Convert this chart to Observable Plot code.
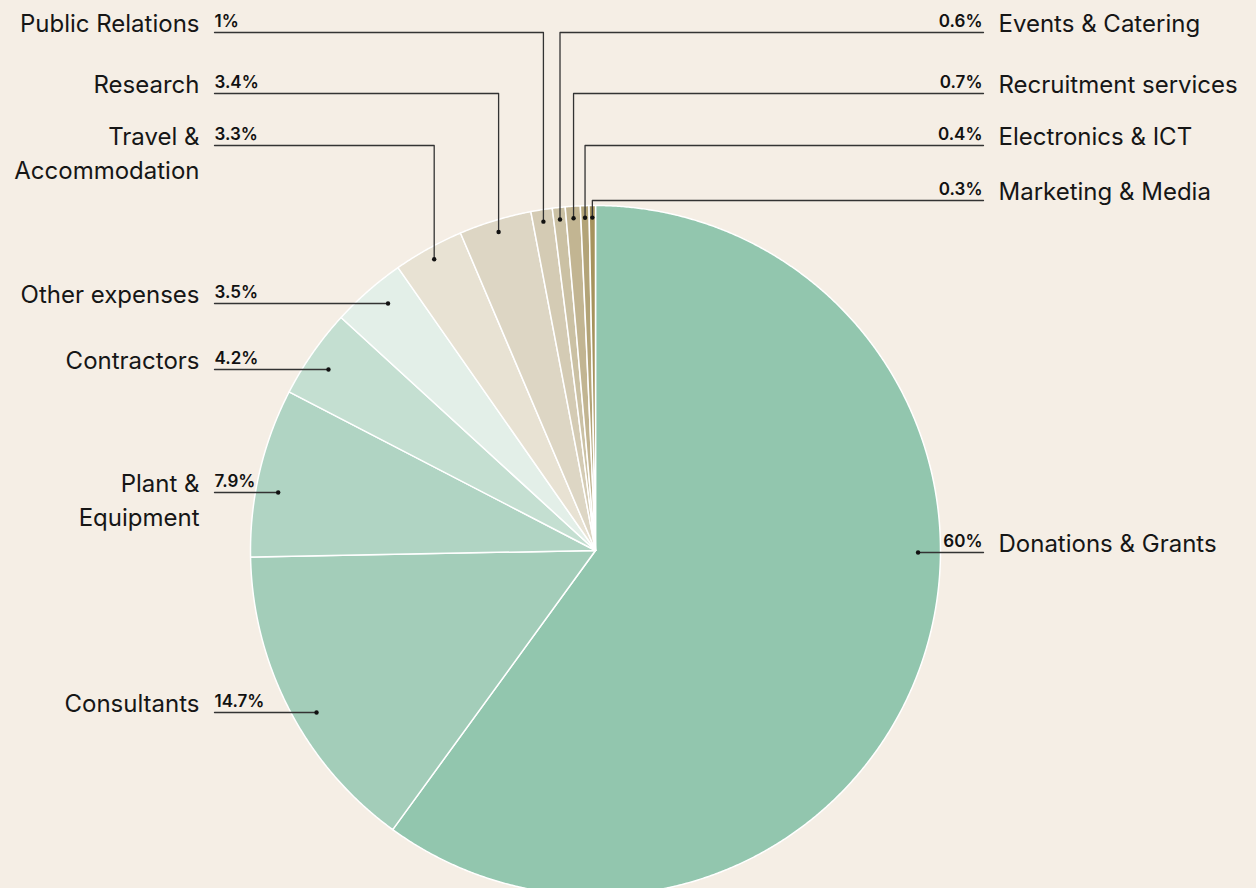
<!DOCTYPE html>
<html><head><meta charset="utf-8">
<script src="https://cdn.jsdelivr.net/npm/d3@7"></script>
<script src="https://cdn.jsdelivr.net/npm/@observablehq/plot@0.6"></script>
<style>html,body{margin:0;padding:0;background:#f5eee5;overflow:hidden}</style>
</head><body><div id="chart"></div><script>
// ---- data ----
const categories = ["Donations & Grants","Consultants","Plant &\nEquipment","Contractors","Other expenses","Travel &\nAccommodation","Research","Public Relations","Events & Catering","Recruitment services","Electronics & ICT","Marketing & Media"];
const values = [60, 14.7, 7.9, 4.2, 3.5, 3.3, 3.4, 1, 0.6, 0.7, 0.4, 0.3];
const colors = ["#92c6ae","#a3cdb9","#b0d4c3","#c4dfd1","#e3efe8","#e8e2d3","#ddd6c4","#d4cbb4","#cbc1a4","#c2b592","#b3a478","#a6935d"];

// ---- layout ----
const W = 1256, H = 888;
const cx = 595, cy = 550, R = 345;
const side = ["right","left","left","left","left","left","left","left","right","right","right","right"];
const rows = [552, 712, 492, 369, 303, 145, 93, 32, 32, 93, 145, 200];
const elbow = [false,false,false,false,false,true,true,true,true,true,true,true];
const leftLineX = 214, rightLineX = 983, leftLabelX = 199, rightLabelX = 998;
const labelSize = 24, labelLH = 1.4;

const pie = d3.pie().sort(null).value(d => d.value)(categories.map((name, i) => ({name, value: values[i], i})));

// slice polygons
const polys = [];
for (const a of pie) {
  const name = a.data.name;
  polys.push({name, x: cx, y: cy});
  const n = Math.max(4, Math.ceil((a.endAngle - a.startAngle) / 0.005));
  for (let k = 0; k <= n; k++) {
    const t = a.startAngle + (a.endAngle - a.startAngle) * k / n;
    polys.push({name, x: cx + R * Math.sin(t), y: cy - R * Math.cos(t)});
  }
}

// leaders
const leaders = [], dots = [], labels = [];
pie.forEach((a, i) => {
  const name = a.data.name, row = rows[i], s = side[i];
  const lx = s === "left" ? leftLineX : rightLineX;
  let ax, ay;
  if (elbow[i]) {
    const mid = (a.startAngle + a.endAngle) / 2;
    const rr = R * 0.965;
    ax = cx + rr * Math.sin(mid); ay = cy - rr * Math.cos(mid);
    leaders.push({name, x: lx, y: row}, {name, x: ax, y: row}, {name, x: ax, y: ay});
  } else {
    const rr = R * 0.935;
    const dx = Math.sqrt(Math.max(0, rr * rr - (row - cy) ** 2));
    ax = s === "left" ? cx - dx : cx + dx; ay = row;
    leaders.push({name, x: lx, y: row}, {name, x: ax, y: row});
  }
  dots.push({x: ax, y: ay});
  labels.push({name, side: s, row, pct: `${a.data.value}%`});
});

const L = labels.filter(d => d.side === "left"), Rt = labels.filter(d => d.side === "right");
const labelDy = -0.71 * labelLH * labelSize;

const chart = Plot.plot({
  width: W, height: H, margin: 0,
  x: {domain: [0, W], range: [0, W], axis: null},
  y: {domain: [0, H], range: [0, H], axis: null},
  color: {domain: categories, range: colors},
  style: {background: "#f5eee5", fontFamily: "Inter, 'Noto Sans', sans-serif", overflow: "hidden"},
  marks: [
    Plot.line(polys, {x: "x", y: "y", z: "name", fill: "name", stroke: "#ffffff", strokeWidth: 1.5, curve: "linear-closed"}),
    Plot.line(leaders, {x: "x", y: "y", z: "name", stroke: "#333", strokeWidth: 1.3}),
    Plot.dot(dots, {x: "x", y: "y", r: 2.2, fill: "#111"}),
    Plot.text(L, {x: leftLabelX, y: "row", text: "name", textAnchor: "end", lineAnchor: "top", dy: labelDy, lineHeight: labelLH, fontSize: labelSize, fill: "#161616", fontWeight: 400}),
    Plot.text(Rt, {x: rightLabelX, y: "row", text: "name", textAnchor: "start", lineAnchor: "top", dy: labelDy, lineHeight: labelLH, fontSize: labelSize, fill: "#161616", fontWeight: 400}),
    Plot.text(L, {x: leftLineX, y: "row", text: "pct", textAnchor: "start", lineAnchor: "bottom", dy: -5.5, fontSize: 17, fontWeight: 600, fill: "#111", letterSpacing: "-0.3px"}),
    Plot.text(Rt, {x: rightLineX - 1, y: "row", text: "pct", textAnchor: "end", lineAnchor: "bottom", dy: -5.5, fontSize: 17, fontWeight: 600, fill: "#111", letterSpacing: "-0.3px"})
  ]
});
document.getElementById("chart").appendChild(chart);
</script></body></html>
